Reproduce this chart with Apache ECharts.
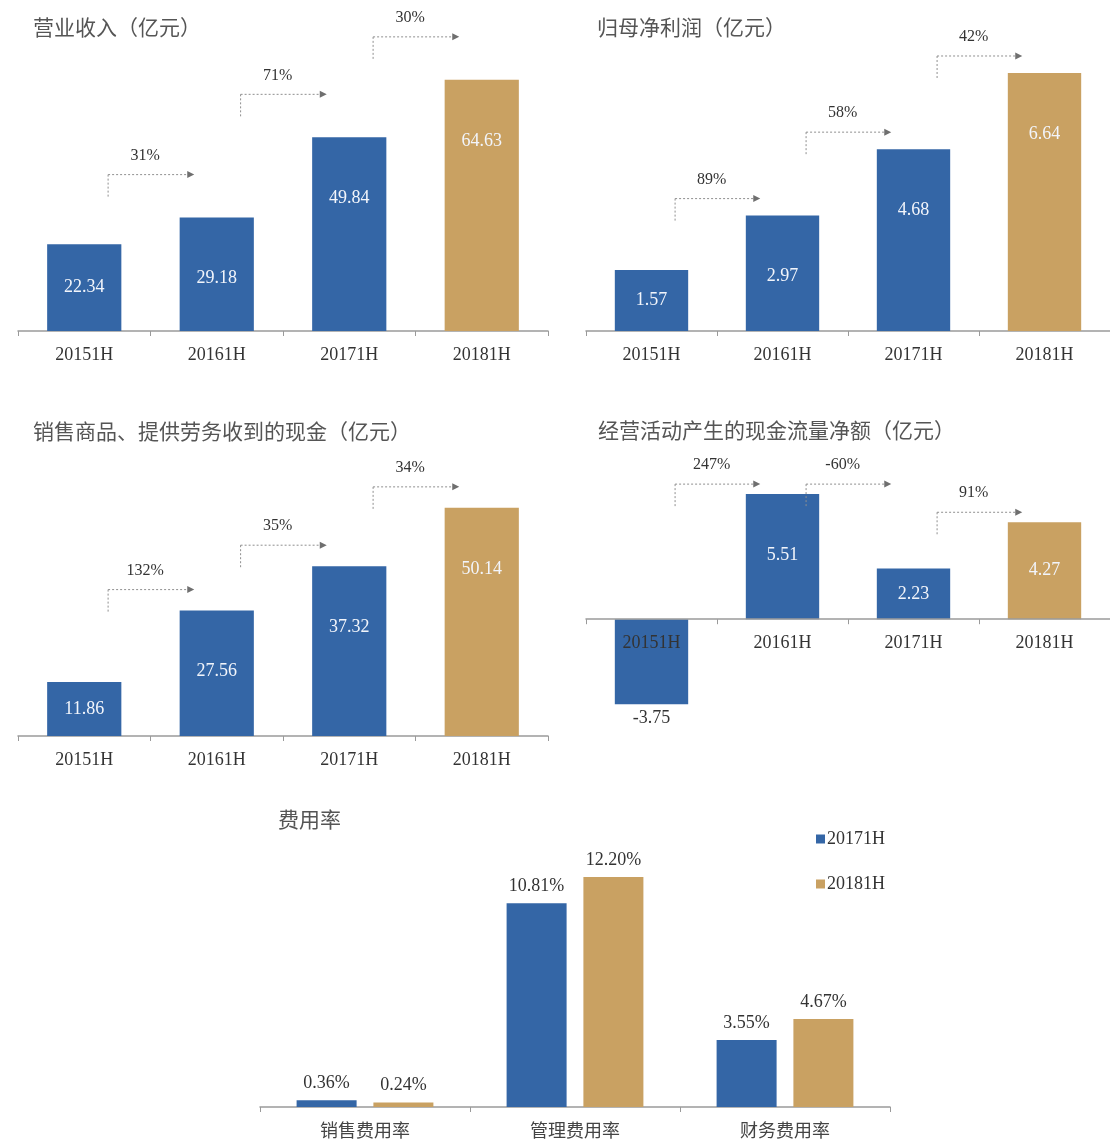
<!DOCTYPE html>
<html>
<head>
<meta charset="utf-8">
<script src="https://cdn.jsdelivr.net/npm/echarts@6/dist/echarts.min.js"></script>
<style>
  html, body { margin: 0; padding: 0; background: #fff; }
  #chart { width: 1110px; height: 1144px; }
</style>
</head>
<body>
<div id="chart"></div>
<script>
const periods = ['20151H', '20161H', '20171H', '20181H']
const revenue = [22.34, 29.18, 49.84, 64.63]
const revenueGrowth = ['31%', '71%', '30%']
const netProfit = [1.57, 2.97, 4.68, 6.64]
const netProfitGrowth = ['89%', '58%', '42%']
const cashReceived = [11.86, 27.56, 37.32, 50.14]
const cashReceivedGrowth = ['132%', '35%', '34%']
const operatingCash = [-3.75, 5.51, 2.23, 4.27]
const operatingCashGrowth = ['247%', '-60%', '91%']
const expenseTypes = ['销售费用率', '管理费用率', '财务费用率']
const expense2017 = [0.36, 10.81, 3.55]
const expense2018 = [0.24, 12.20, 4.67]

const BLUE = '#3466a6'
const GOLD = '#c9a162'
const SERIF = '"Liberation Serif", "Times New Roman", serif'
const CJK = '"Noto Sans CJK SC", sans-serif'

const chart = echarts.init(document.getElementById('chart'))

const grids = [
  { left: 18, width: 530, top: 59, height: 272 },
  { left: 586, width: 530, top: 59, height: 272 },
  { left: 18, width: 530, top: 463, height: 273 },
  { left: 586, width: 530, top: 483, height: 227 },
  { left: 260, width: 630, top: 843, height: 264 },
]

const yRanges = [[0, 70], [0, 7], [0, 60], [-4, 6], [0, 14]]

function catAxis(gridIndex, data, extra) {
  return Object.assign({
    type: 'category',
    gridIndex,
    data,
    axisLine: { lineStyle: { color: '#9a9a9a', width: 1.5 } },
    axisTick: { show: true, length: 5, lineStyle: { color: '#9a9a9a' } },
    axisLabel: { color: '#333', fontFamily: SERIF, fontSize: 18, margin: 15 },
  }, extra || {})
}

function barSeries(gridIndex, values) {
  const r = yRanges[gridIndex]
  const pxPerUnit = grids[gridIndex].height / (r[1] - r[0])
  return {
    type: 'bar',
    xAxisIndex: gridIndex,
    yAxisIndex: gridIndex,
    barWidth: '56%',
    data: values.map((v, i) => {
      let label
      if (v < 0) label = { position: 'bottom', distance: 5, color: '#333' }
      else if (v * pxPerUnit < 100) label = { position: 'inside' }
      return {
        value: v,
        itemStyle: { color: i === values.length - 1 ? GOLD : BLUE },
        label,
      }
    }),
    label: {
      show: true,
      position: 'insideTop',
      distance: 52,
      color: '#f2f5fb',
      fontFamily: SERIF,
      fontSize: 18,
      formatter: (p) => p.value.toFixed(2),
    },
  }
}

// dotted growth arrow between neighbouring bars, placed from the axis scale
function growthArrows(gridIndex, values, growth, lift) {
  return {
    type: 'custom',
    xAxisIndex: gridIndex,
    yAxisIndex: gridIndex,
    silent: true,
    z: 6,
    data: growth.map((g, i) => [i, values[i + 1]]),
    renderItem(params, api) {
      const i = params.dataIndex
      const band = api.size([1, 0])[0]
      const a = api.coord([i, values[i]])
      const b = api.coord([i + 1, values[i + 1]])
      const y = Math.min(a[1], b[1]) - lift
      const x0 = a[0] + band * 0.18
      const x1 = x0 + band * 0.65
      const dotted = { stroke: '#8f8f8f', lineWidth: 1, lineDash: [2, 2] }
      return {
        type: 'group',
        children: [
          { type: 'line', shape: { x1: x0, y1: y + 22, x2: x0, y2: y }, style: dotted },
          { type: 'line', shape: { x1: x0, y1: y, x2: x1 - 6, y2: y }, style: dotted },
          {
            type: 'polygon',
            shape: { points: [[x1, y], [x1 - 7, y - 3.5], [x1 - 7, y + 3.5]] },
            style: { fill: '#6f6f6f' },
          },
          {
            type: 'text',
            x: (x0 + x1) / 2 - 6,
            y: y - 19,
            style: {
              text: growth[i],
              fill: '#333',
              font: '16px ' + SERIF,
              align: 'center',
              verticalAlign: 'middle',
            },
          },
        ],
      }
    },
  }
}

// place the cash-flow category axis on the zero line
const cashZeroOffset = -grids[3].height * (0 - yRanges[3][0]) / (yRanges[3][1] - yRanges[3][0])

const titleStyle = { color: '#555', fontFamily: CJK, fontSize: 21, fontWeight: 'normal' }

const expenseLabel = {
  show: true,
  position: 'top',
  distance: 8,
  color: '#333',
  fontFamily: SERIF,
  fontSize: 18,
  formatter: (p) => p.value.toFixed(2) + '%',
}

chart.setOption({
  animation: false,
  title: [
    { text: '营业收入（亿元）', left: 28, top: 12, textStyle: titleStyle },
    { text: '归母净利润（亿元）', left: 592, top: 12, textStyle: titleStyle },
    { text: '销售商品、提供劳务收到的现金（亿元）', left: 28, top: 416, textStyle: titleStyle },
    { text: '经营活动产生的现金流量净额（亿元）', left: 593, top: 415, textStyle: titleStyle },
    { text: '费用率', left: 273, top: 804, textStyle: titleStyle },
  ],
  legend: {
    data: ['20171H', '20181H'],
    orient: 'vertical',
    left: 811,
    top: 825,
    itemWidth: 9,
    itemHeight: 9,
    itemGap: 27,
    icon: 'rect',
    textStyle: { color: '#333', fontFamily: SERIF, fontSize: 18, padding: [0, 0, 0, -3] },
  },
  grid: grids,
  xAxis: [
    catAxis(0, periods),
    catAxis(1, periods),
    catAxis(2, periods),
    catAxis(3, periods, {
      z: 5,
      position: 'bottom',
      offset: cashZeroOffset,
      axisLine: { onZero: false, lineStyle: { color: '#9a9a9a', width: 1.5 } },
    }),
    catAxis(4, expenseTypes, {
      axisLabel: { color: '#444', fontFamily: CJK, fontSize: 18, margin: 14 },
    }),
  ],
  yAxis: yRanges.map((r, i) => ({
    type: 'value',
    gridIndex: i,
    min: r[0],
    max: r[1],
    show: false,
    splitLine: { show: false },
  })),
  series: [
    barSeries(0, revenue),
    growthArrows(0, revenue, revenueGrowth, 43),
    barSeries(1, netProfit),
    growthArrows(1, netProfit, netProfitGrowth, 17),
    barSeries(2, cashReceived),
    growthArrows(2, cashReceived, cashReceivedGrowth, 21),
    barSeries(3, operatingCash),
    growthArrows(3, operatingCash, operatingCashGrowth, 10),
    {
      name: '20171H',
      type: 'bar',
      xAxisIndex: 4,
      yAxisIndex: 4,
      barWidth: 60,
      barGap: '28%',
      itemStyle: { color: BLUE },
      data: expense2017,
      label: expenseLabel,
    },
    {
      name: '20181H',
      type: 'bar',
      xAxisIndex: 4,
      yAxisIndex: 4,
      barWidth: 60,
      barGap: '28%',
      itemStyle: { color: GOLD },
      data: expense2018,
      label: expenseLabel,
    },
  ],
})

window.addEventListener('resize', () => chart.resize())
</script>
</body>
</html>
